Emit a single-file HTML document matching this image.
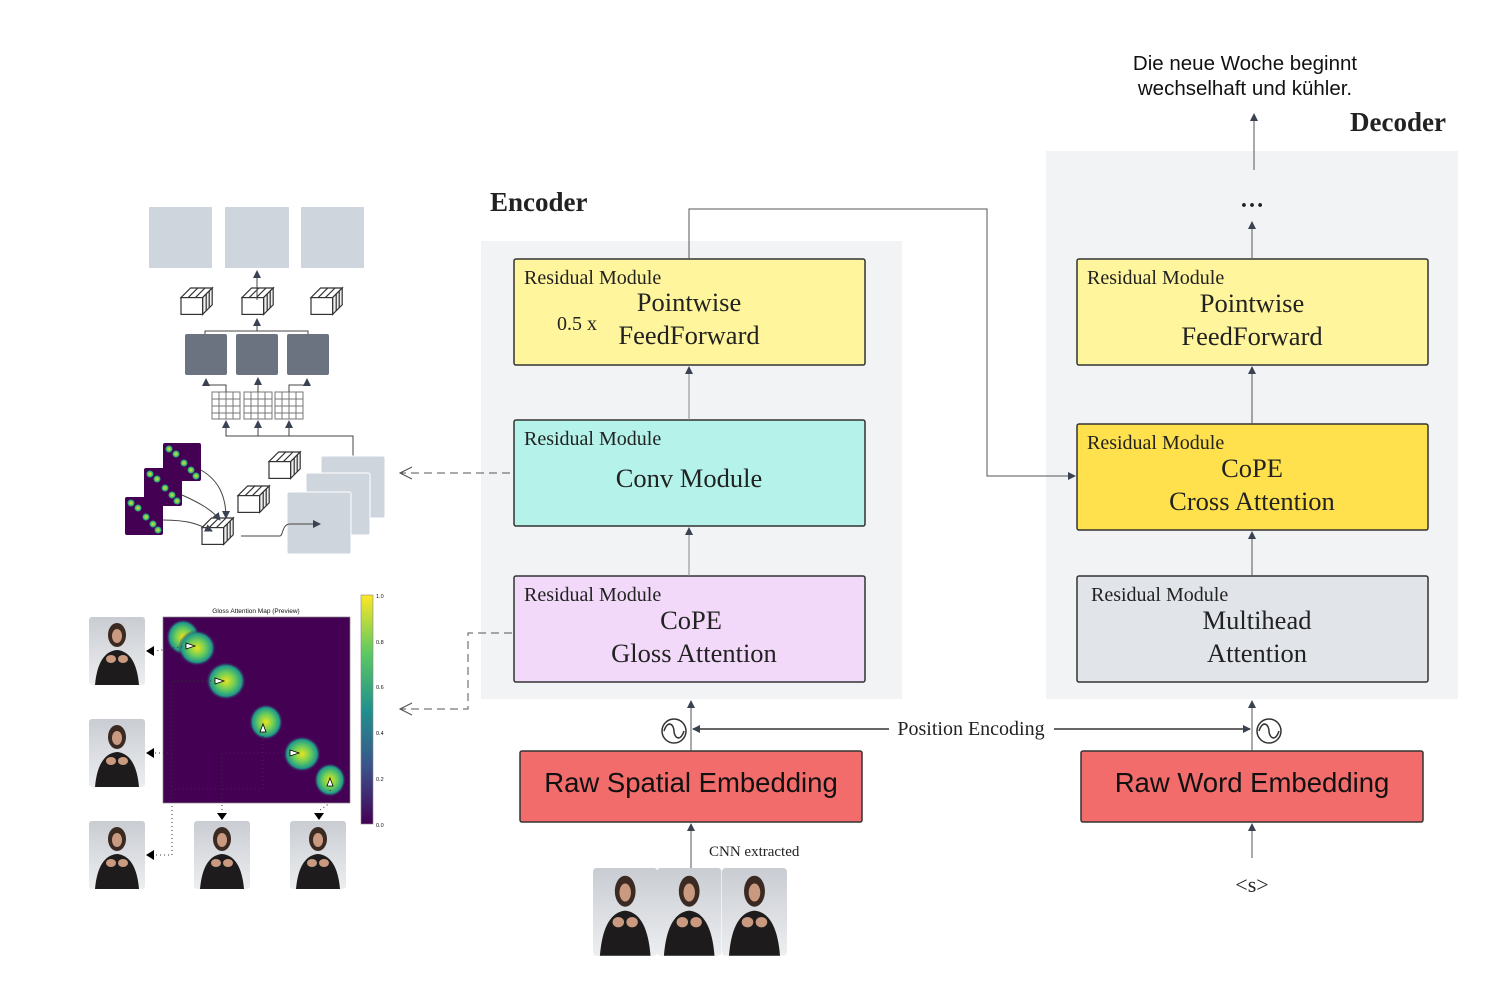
<!DOCTYPE html>
<html><head><meta charset="utf-8"><style>
html,body{margin:0;padding:0;background:#fff}
svg{display:block}
.s{font-family:"Liberation Serif",serif;fill:#222}
.a{font-family:"Liberation Sans",sans-serif;fill:#111}
</style></head><body>
<svg width="1495" height="988" viewBox="0 0 1495 988" xmlns="http://www.w3.org/2000/svg">
<defs>
<marker id="ar" markerWidth="8" markerHeight="8" refX="7" refY="4" orient="auto" markerUnits="userSpaceOnUse"><path d="M0,0 L8,4 L0,8 z" fill="#3a4150"/></marker>
<marker id="oa" markerWidth="14" markerHeight="14" refX="13" refY="7" orient="auto" markerUnits="userSpaceOnUse"><path d="M1,1 L13,7 L1,13" fill="none" stroke="#555" stroke-width="1.2"/></marker>
<radialGradient id="blob"><stop offset="0" stop-color="#e7e41f"/><stop offset="0.45" stop-color="#6ccd5a"/><stop offset="0.8" stop-color="#1f9a8a"/><stop offset="1" stop-color="#440154" stop-opacity="0"/></radialGradient>
<linearGradient id="cb" x1="0" y1="1" x2="0" y2="0"><stop offset="0" stop-color="#440154"/><stop offset="0.25" stop-color="#3b528b"/><stop offset="0.5" stop-color="#21918c"/><stop offset="0.75" stop-color="#5ec962"/><stop offset="1" stop-color="#fde725"/></linearGradient>
<linearGradient id="ph" x1="0" y1="0" x2="0" y2="1"><stop offset="0" stop-color="#c9ccd2"/><stop offset="1" stop-color="#eceef0"/></linearGradient>
<g id="person"><rect width="56" height="68" fill="url(#ph)" rx="3"/><ellipse cx="28" cy="18" rx="9" ry="12" fill="#3a2a22"/><ellipse cx="28" cy="19" rx="5" ry="7" fill="#c99a80"/><path d="M6,68 C8,45 16,34 28,33 C40,34 48,45 50,68 z" fill="#1d1b1b"/><ellipse cx="22" cy="42" rx="5" ry="4" fill="#c99a80"/><ellipse cx="34" cy="42" rx="5" ry="4" fill="#c99a80"/></g>
<g id="cube"><path d="M0,8 L8,0 L26,0 L18,8 z" fill="#fff" stroke="#333" stroke-width="1"/><path d="M18,8 L26,0 L26,14 L18,22 z" fill="#eee" stroke="#333"/><rect x="0" y="8" width="18" height="14" fill="#fff" stroke="#333"/><path d="M6,8 L14,0 M12,8 L20,0 M21,5 L21,19 M23.5,2.5 L23.5,16.5" stroke="#333" fill="none"/></g>
<g id="grid"><rect width="28" height="27" fill="#fff" stroke="#777"/><path d="M7,0V27M14,0V27M21,0V27M0,7H28M0,14H28M0,21H28" stroke="#777"/></g>
<g id="hm"><rect width="38" height="38" fill="#440154" rx="2"/><circle cx="6" cy="6" r="4" fill="url(#blob)"/><circle cx="13" cy="11" r="4" fill="url(#blob)"/><circle cx="21" cy="20" r="4" fill="url(#blob)"/><circle cx="28" cy="27" r="4" fill="url(#blob)"/><circle cx="33" cy="33" r="4" fill="url(#blob)"/></g>
</defs>

<rect x="481" y="241" width="421" height="458" fill="#f1f3f5"/>
<rect x="1046" y="151" width="412" height="548" fill="#f1f3f5"/>
<text x="490" y="211" class="s" font-size="27" font-weight="bold">Encoder</text>
<text x="1350" y="131" class="s" font-size="27" font-weight="bold">Decoder</text>

<text x="1245" y="70" class="a" font-size="20.5" text-anchor="middle">Die neue Woche beginnt</text>
<text x="1245" y="95" class="a" font-size="20.5" text-anchor="middle">wechselhaft und kühler.</text>
<line x1="1254" y1="170" x2="1254" y2="114" stroke="#555" marker-end="url(#ar)"/>
<text x="1252" y="207" class="s" font-size="24" text-anchor="middle" font-weight="bold">…</text>
<line x1="1252" y1="258" x2="1252" y2="222" stroke="#555" marker-end="url(#ar)"/>

<rect x="514" y="259" width="351" height="106" fill="#fff59d" stroke="#333" stroke-width="1.5" rx="2"/>
<text x="524" y="284" class="s" font-size="20">Residual Module</text>
<text x="689" y="311" class="s" font-size="26.5" text-anchor="middle">Pointwise</text>
<text x="689" y="344" class="s" font-size="26.5" text-anchor="middle">FeedForward</text>
<text x="557" y="330" class="s" font-size="20">0.5 x</text>

<rect x="514" y="420" width="351" height="106" fill="#b4f2ea" stroke="#333" stroke-width="1.5" rx="2"/>
<text x="524" y="445" class="s" font-size="20">Residual Module</text>
<text x="689" y="487" class="s" font-size="26.5" text-anchor="middle">Conv Module</text>

<rect x="514" y="576" width="351" height="106" fill="#f2d9f9" stroke="#333" stroke-width="1.5" rx="2"/>
<text x="524" y="601" class="s" font-size="20">Residual Module</text>
<text x="691" y="629" class="s" font-size="26.5" text-anchor="middle">CoPE</text>
<text x="694" y="662" class="s" font-size="26.5" text-anchor="middle">Gloss Attention</text>

<line x1="689" y1="420" x2="689" y2="367" stroke="#888" marker-end="url(#ar)"/>
<line x1="689" y1="576" x2="689" y2="528" stroke="#888" marker-end="url(#ar)"/>
<polyline points="689,259 689,209 987,209 987,476 1075,476" fill="none" stroke="#555" marker-end="url(#ar)"/>

<rect x="1077" y="259" width="351" height="106" fill="#fff59d" stroke="#333" stroke-width="1.5" rx="2"/>
<text x="1087" y="284" class="s" font-size="20">Residual Module</text>
<text x="1252" y="312" class="s" font-size="26.5" text-anchor="middle">Pointwise</text>
<text x="1252" y="345" class="s" font-size="26.5" text-anchor="middle">FeedForward</text>

<rect x="1077" y="424" width="351" height="106" fill="#ffe14d" stroke="#333" stroke-width="1.5" rx="2"/>
<text x="1087" y="449" class="s" font-size="20">Residual Module</text>
<text x="1252" y="477" class="s" font-size="26.5" text-anchor="middle">CoPE</text>
<text x="1252" y="510" class="s" font-size="26.5" text-anchor="middle">Cross Attention</text>

<rect x="1077" y="576" width="351" height="106" fill="#e1e4e9" stroke="#333" stroke-width="1.5" rx="2"/>
<text x="1091" y="601" class="s" font-size="20">Residual Module</text>
<text x="1257" y="629" class="s" font-size="26.5" text-anchor="middle">Multihead</text>
<text x="1257" y="662" class="s" font-size="26.5" text-anchor="middle">Attention</text>

<line x1="1252" y1="424" x2="1252" y2="367" stroke="#555" marker-end="url(#ar)"/>
<line x1="1252" y1="576" x2="1252" y2="532" stroke="#555" marker-end="url(#ar)"/>

<rect x="520" y="751" width="342" height="71" fill="#f26c6c" stroke="#333" stroke-width="1.5" rx="2"/>
<text x="691" y="792" class="a" font-size="27.5" text-anchor="middle" fill="#222">Raw Spatial Embedding</text>
<rect x="1081" y="751" width="342" height="71" fill="#f26c6c" stroke="#333" stroke-width="1.5" rx="2"/>
<text x="1252" y="792" class="a" font-size="27.5" text-anchor="middle" fill="#222">Raw Word Embedding</text>

<line x1="691" y1="751" x2="691" y2="701" stroke="#555" marker-end="url(#ar)"/>
<line x1="1252" y1="751" x2="1252" y2="701" stroke="#555" marker-end="url(#ar)"/>
<circle cx="674" cy="731" r="12" fill="#fff" stroke="#333" stroke-width="1.5"/>
<path d="M664,731 C668,719 674,725 674,731 C674,737 680,743 684,731" fill="none" stroke="#333" stroke-width="1.5"/>
<circle cx="1269" cy="731" r="12" fill="#fff" stroke="#333" stroke-width="1.5"/>
<path d="M1259,731 C1263,719 1269,725 1269,731 C1269,737 1275,743 1279,731" fill="none" stroke="#333" stroke-width="1.5"/>
<line x1="889" y1="729" x2="693" y2="729" stroke="#333" stroke-width="1.5" marker-end="url(#ar)"/>
<line x1="1054" y1="729" x2="1250" y2="729" stroke="#333" stroke-width="1.5" marker-end="url(#ar)"/>
<text x="971" y="735" class="s" font-size="20" text-anchor="middle">Position Encoding</text>

<line x1="691" y1="868" x2="691" y2="824" stroke="#555" marker-end="url(#ar)"/>
<text x="709" y="856" class="s" font-size="15">CNN extracted</text>
<line x1="1252" y1="858" x2="1252" y2="824" stroke="#555" marker-end="url(#ar)"/>
<text x="1252" y="892" class="s" font-size="22" text-anchor="middle">&lt;s&gt;</text>
<use href="#person" transform="translate(593,868) scale(1.15,1.29)"/>
<use href="#person" transform="translate(657,868) scale(1.15,1.29)"/>
<use href="#person" transform="translate(722,868) scale(1.16,1.29)"/>

<line x1="510" y1="473" x2="400" y2="473" stroke="#555" stroke-dasharray="8,5" marker-end="url(#oa)"/>
<polyline points="512,633 468,633 468,709 400,709" fill="none" stroke="#555" stroke-dasharray="8,5" marker-end="url(#oa)"/>

<rect x="149" y="207" width="63" height="61" fill="#cfd5dd" rx="1"/>
<rect x="225" y="207" width="64" height="61" fill="#cfd5dd" rx="1"/>
<rect x="301" y="207" width="63" height="61" fill="#cfd5dd" rx="1"/>
<use href="#cube" transform="translate(181,288) scale(1.2)"/>
<use href="#cube" transform="translate(242,288) scale(1.2)"/>
<use href="#cube" transform="translate(311,288) scale(1.2)"/>
<line x1="257" y1="300" x2="257" y2="271" stroke="#444" marker-end="url(#ar)"/>
<polyline points="205,334 205,331 308,331 308,334" fill="none" stroke="#444"/>
<line x1="257" y1="331" x2="257" y2="319" stroke="#444" marker-end="url(#ar)"/>
<rect x="185" y="334" width="42" height="41" fill="#6b7280" rx="2"/>
<rect x="236" y="334" width="42" height="41" fill="#6b7280" rx="2"/>
<rect x="287" y="334" width="42" height="41" fill="#6b7280" rx="2"/>
<use href="#grid" transform="translate(212,392)"/>
<use href="#grid" transform="translate(244,392)"/>
<use href="#grid" transform="translate(275,392)"/>
<polyline points="226,392 226,385 206,385 206,379" fill="none" stroke="#444" marker-end="url(#ar)"/>
<line x1="258" y1="392" x2="258" y2="378" stroke="#444" marker-end="url(#ar)"/>
<polyline points="289,392 289,385 307,385 307,379" fill="none" stroke="#444" marker-end="url(#ar)"/>
<polyline points="226,425 226,436 353,436 353,477 340,477" fill="none" stroke="#444"/>
<line x1="226" y1="436" x2="226" y2="421" stroke="#444" marker-end="url(#ar)"/>
<line x1="258" y1="436" x2="258" y2="421" stroke="#444" marker-end="url(#ar)"/>
<line x1="289" y1="436" x2="289" y2="421" stroke="#444" marker-end="url(#ar)"/>
<rect x="321" y="456" width="64" height="62" fill="#cfd5dd" rx="2" stroke="#fff"/>
<rect x="306" y="473" width="64" height="62" fill="#cfd5dd" rx="2" stroke="#fff"/>
<rect x="287" y="492" width="64" height="62" fill="#cfd5dd" rx="2" stroke="#fff"/>
<use href="#hm" transform="translate(163,443)"/>
<use href="#hm" transform="translate(144,468)"/>
<use href="#hm" transform="translate(125,497)"/>
<use href="#cube" transform="translate(269,452) scale(1.2)"/>
<use href="#cube" transform="translate(238,486) scale(1.2)"/>
<use href="#cube" transform="translate(202,518) scale(1.2)"/>
<path d="M201,470 C218,480 226,495 226,518" fill="none" stroke="#444" marker-end="url(#ar)"/>
<path d="M182,495 C200,503 212,510 220,520" fill="none" stroke="#444" marker-end="url(#ar)"/>
<path d="M163,520 C190,520 200,525 212,531" fill="none" stroke="#444" marker-end="url(#ar)"/>
<path d="M241,536 L280,536 C283,536 282,524 290,524 L320,524" fill="none" stroke="#444" marker-end="url(#ar)"/>

<text x="256" y="613" class="a" font-size="6.5" text-anchor="middle" fill="#333">Gloss Attention Map (Preview)</text>
<rect x="163" y="617" width="187" height="186" fill="#440154" stroke="#888" stroke-width="0.7"/>
<ellipse cx="183" cy="637" rx="17" ry="18" fill="url(#blob)"/>
<ellipse cx="197" cy="648" rx="19" ry="18" fill="url(#blob)"/>
<ellipse cx="226" cy="681" rx="20" ry="19" fill="url(#blob)"/>
<ellipse cx="266" cy="722" rx="17" ry="18" fill="url(#blob)"/>
<ellipse cx="302" cy="754" rx="19" ry="18" fill="url(#blob)"/>
<ellipse cx="330" cy="780" rx="16" ry="17" fill="url(#blob)"/>
<g fill="#fff" stroke="#000" stroke-width="0.8">
<path d="M186,643 L195,646 L186,649 z"/><path d="M215,678 L224,681 L215,684 z"/><path d="M260,732 L263,724 L266,732 z"/><path d="M290,750 L299,753 L290,756 z"/><path d="M327,786 L330,778 L333,786 z"/>
</g>
<g fill="none" stroke="#333" stroke-dasharray="1,3" stroke-width="1">
<polyline points="186,646 155,651"/><polyline points="215,681 172,681 172,855 155,855"/><polyline points="290,753 222,753 222,810"/><polyline points="263,732 263,789 172,789"/><polyline points="330,786 330,803 320,810"/><polyline points="172,753 155,753"/>
</g>
<g fill="#000"><path d="M146,651 L154,646 L154,656 z"/><path d="M146,753 L154,748 L154,758 z"/><path d="M146,855 L154,850 L154,860 z"/><path d="M217,813 L227,813 L222,820 z"/><path d="M314,813 L324,813 L319,820 z"/></g>
<rect x="361" y="595" width="12" height="229" fill="url(#cb)" stroke="#888" stroke-width="0.6"/>
<g class="a" font-size="5.5" fill="#444"><text x="376" y="598">1.0</text><text x="376" y="644">0.8</text><text x="376" y="689">0.6</text><text x="376" y="735">0.4</text><text x="376" y="781">0.2</text><text x="376" y="827">0.0</text></g>
<use href="#person" transform="translate(89,617)"/>
<use href="#person" transform="translate(89,719)"/>
<use href="#person" transform="translate(89,821)"/>
<use href="#person" transform="translate(194,821)"/>
<use href="#person" transform="translate(290,821)"/>
</svg>
</body></html>
